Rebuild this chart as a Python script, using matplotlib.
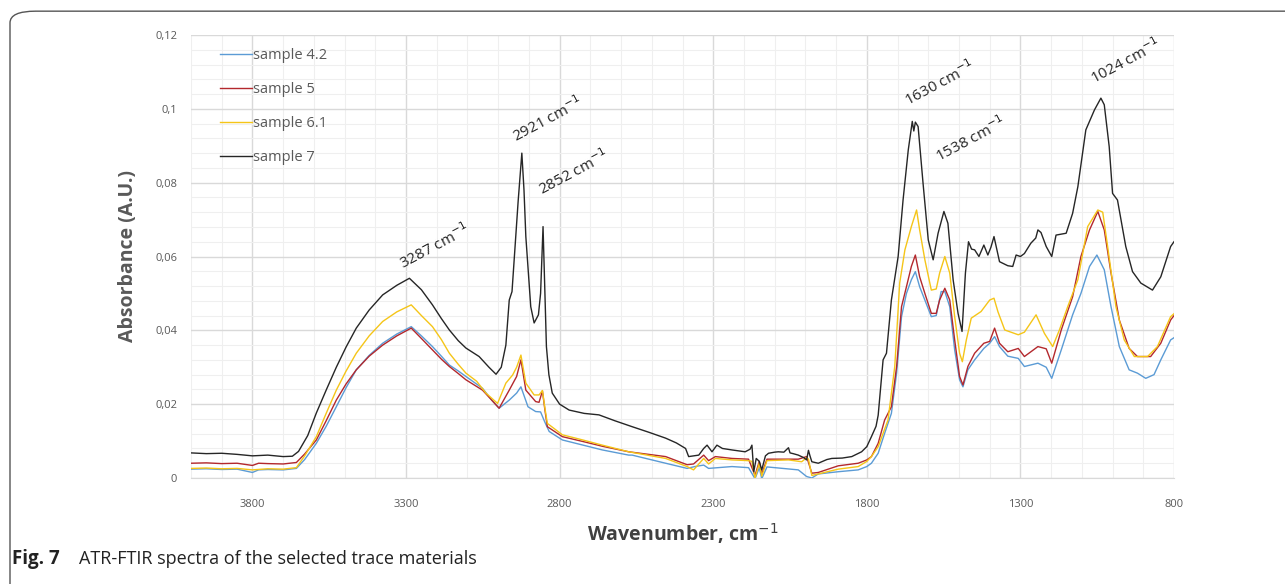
import numpy as np
import matplotlib
matplotlib.use("Agg")
import matplotlib.pyplot as plt
from matplotlib.ticker import MultipleLocator, FuncFormatter
from matplotlib.patches import FancyBboxPatch

plt.rcParams['font.family'] = ['Open Sans', 'DejaVu Sans']

# sample 7 (black)
wn_s7 = [4000, 3950, 3900, 3850, 3800, 3750, 3700, 3670, 3650, 3620, 3592, 3560, 3527, 3495,
         3462, 3420, 3376, 3330, 3289, 3250, 3214, 3185, 3159, 3130, 3105, 3062, 3030, 3007,
         2990, 2975, 2964, 2955, 2948, 2935, 2923, 2916, 2910, 2894, 2883, 2869, 2862, 2854,
         2848, 2843, 2835, 2824, 2800, 2769, 2720, 2672, 2620, 2564, 2510, 2455, 2420, 2390,
         2380, 2347, 2331, 2320, 2304, 2288, 2270, 2239, 2196, 2180, 2174, 2168, 2160, 2150,
         2142, 2130, 2120, 2100, 2088, 2070, 2055, 2050, 2040, 2023, 2005, 1996, 1990, 1985,
         1979, 1958, 1930, 1914, 1880, 1849, 1817, 1800, 1785, 1770, 1763, 1747, 1736, 1720,
         1698, 1682, 1665, 1652, 1647, 1642, 1633, 1617, 1600, 1584, 1568, 1549, 1536, 1519,
         1503, 1490, 1479, 1469, 1459, 1449, 1435, 1419, 1406, 1396, 1386, 1368, 1341, 1325,
         1314, 1300, 1287, 1266, 1250, 1243, 1233, 1216, 1198, 1184, 1170, 1151, 1130, 1113,
         1087, 1059, 1038, 1027, 1011, 1000, 984, 957, 935, 908, 870, 843, 811, 800]
abs_s7 = [0.0068, 0.0066, 0.0067, 0.0064, 0.0060, 0.0062, 0.0058, 0.0059, 0.0072, 0.0115, 0.0176,
          0.0238, 0.0300, 0.0355, 0.0406, 0.0455, 0.0496, 0.0522, 0.0541, 0.0510, 0.0469, 0.0432,
          0.0401, 0.0372, 0.0352, 0.0329, 0.0300, 0.0281, 0.0300, 0.0360, 0.0482, 0.0505, 0.0590,
          0.0750, 0.0880, 0.0780, 0.0654, 0.0464, 0.0420, 0.0442, 0.0500, 0.0681, 0.0500, 0.0356,
          0.0280, 0.0230, 0.0200, 0.0184, 0.0175, 0.0171, 0.0155, 0.0139, 0.0124, 0.0108, 0.0095,
          0.0080, 0.0058, 0.0062, 0.0080, 0.0089, 0.0071, 0.0089, 0.0080, 0.0076, 0.0071, 0.0078,
          0.0089, 0.0017, 0.0053, 0.0045, 0.0022, 0.0060, 0.0067, 0.0070, 0.0071, 0.0070, 0.0082,
          0.0068, 0.0066, 0.0062, 0.0055, 0.0049, 0.0075, 0.0060, 0.0044, 0.0040, 0.0050, 0.0053,
          0.0054, 0.0058, 0.0071, 0.0085, 0.0112, 0.0140, 0.0170, 0.0320, 0.0338, 0.0482, 0.0600,
          0.0753, 0.0889, 0.0966, 0.0940, 0.0964, 0.0952, 0.0799, 0.0645, 0.0591, 0.0663, 0.0722,
          0.0690, 0.0537, 0.0446, 0.0397, 0.0555, 0.0640, 0.0620, 0.0618, 0.0600, 0.0631, 0.0604,
          0.0625, 0.0654, 0.0586, 0.0575, 0.0573, 0.0604, 0.0600, 0.0608, 0.0636, 0.0650, 0.0672,
          0.0665, 0.0627, 0.0600, 0.0658, 0.0660, 0.0663, 0.0717, 0.0789, 0.0943, 0.0997, 0.1029,
          0.1011, 0.0898, 0.0771, 0.0753, 0.0627, 0.0559, 0.0528, 0.0509, 0.0545, 0.0627, 0.0640]

# sample 6.1 (yellow)
wn_s61 = [4000, 3950, 3900, 3850, 3800, 3750, 3700, 3657, 3630, 3592, 3560, 3527, 3495, 3462,
          3420, 3376, 3330, 3283, 3250, 3214, 3185, 3159, 3130, 3105, 3070, 3040, 3002, 2975,
          2953, 2940, 2926, 2910, 2883, 2867, 2856, 2848, 2840, 2791, 2720, 2661, 2575, 2455,
          2385, 2364, 2331, 2315, 2293, 2239, 2185, 2174, 2164, 2150, 2142, 2125, 2055, 2012,
          1996, 1990, 1979, 1958, 1893, 1828, 1800, 1785, 1763, 1731, 1709, 1693, 1676, 1655,
          1638, 1628, 1611, 1590, 1574, 1563, 1546, 1530, 1514, 1498, 1489, 1476, 1460, 1428,
          1400, 1386, 1373, 1351, 1307, 1287, 1249, 1222, 1195, 1173, 1146, 1113, 1081, 1048,
          1032, 1016, 989, 962, 929, 886, 854, 811, 800]
abs_s61 = [0.0026, 0.0027, 0.0025, 0.0026, 0.0022, 0.0025, 0.0024, 0.0028, 0.0060, 0.0112, 0.0175,
           0.0238, 0.0290, 0.0338, 0.0385, 0.0424, 0.0450, 0.0469, 0.0440, 0.0410, 0.0375, 0.0338,
           0.0308, 0.0284, 0.0262, 0.0230, 0.0202, 0.0257, 0.0279, 0.0300, 0.0333, 0.0257, 0.0225,
           0.0225, 0.0237, 0.0190, 0.0148, 0.0117, 0.0102, 0.0089, 0.0071, 0.0053, 0.0031, 0.0022,
           0.0053, 0.0038, 0.0053, 0.0049, 0.0047, 0.0045, 0.0000, 0.0040, 0.0005, 0.0047, 0.0049,
           0.0044, 0.0055, 0.0051, 0.0007, 0.0011, 0.0024, 0.0031, 0.0045, 0.0058, 0.0085, 0.0157,
           0.0302, 0.0528, 0.0618, 0.0681, 0.0726, 0.0672, 0.0591, 0.0509, 0.0512, 0.0555, 0.0600,
           0.0555, 0.0437, 0.0338, 0.0315, 0.0374, 0.0433, 0.0451, 0.0482, 0.0487, 0.0450, 0.0401,
           0.0388, 0.0395, 0.0442, 0.0392, 0.0356, 0.0401, 0.0464, 0.0537, 0.0681, 0.0726, 0.0720,
           0.0627, 0.0464, 0.0374, 0.0329, 0.0329, 0.0356, 0.0437, 0.0445]

# sample 5 (red)
wn_s5 = [4000, 3950, 3900, 3850, 3800, 3780, 3750, 3700, 3657, 3630, 3592, 3560, 3527, 3495,
         3462, 3420, 3376, 3330, 3283, 3250, 3214, 3185, 3159, 3130, 3105, 3051, 3020, 2997,
         2964, 2940, 2926, 2910, 2878, 2867, 2856, 2848, 2840, 2791, 2720, 2661, 2575, 2455,
         2385, 2364, 2331, 2315, 2293, 2239, 2185, 2164, 2150, 2142, 2125, 2023, 1996, 1979,
         1958, 1893, 1828, 1800, 1785, 1763, 1742, 1720, 1703, 1687, 1671, 1655, 1642, 1628,
         1611, 1590, 1574, 1563, 1546, 1530, 1514, 1498, 1487, 1471, 1449, 1419, 1400, 1384,
         1368, 1341, 1307, 1287, 1243, 1216, 1198, 1167, 1130, 1103, 1075, 1048, 1027, 1005,
         978, 946, 919, 876, 843, 811, 800]
abs_s5 = [0.0040, 0.0041, 0.0039, 0.0040, 0.0034, 0.0040, 0.0039, 0.0038, 0.0042, 0.0065, 0.0103,
          0.0155, 0.0211, 0.0255, 0.0293, 0.0330, 0.0360, 0.0385, 0.0406, 0.0378, 0.0347, 0.0322,
          0.0302, 0.0283, 0.0266, 0.0238, 0.0210, 0.0189, 0.0238, 0.0275, 0.0320, 0.0238, 0.0207,
          0.0205, 0.0236, 0.0185, 0.0139, 0.0112, 0.0098, 0.0086, 0.0071, 0.0058, 0.0036, 0.0038,
          0.0062, 0.0047, 0.0058, 0.0053, 0.0051, 0.0007, 0.0045, 0.0011, 0.0051, 0.0051, 0.0058,
          0.0013, 0.0015, 0.0033, 0.0040, 0.0049, 0.0058, 0.0094, 0.0157, 0.0193, 0.0302, 0.0464,
          0.0518, 0.0573, 0.0604, 0.0545, 0.0500, 0.0446, 0.0446, 0.0482, 0.0514, 0.0482, 0.0374,
          0.0275, 0.0252, 0.0302, 0.0338, 0.0365, 0.0370, 0.0406, 0.0365, 0.0342, 0.0351, 0.0329,
          0.0356, 0.0350, 0.0311, 0.0401, 0.0491, 0.0600, 0.0672, 0.0722, 0.0672, 0.0555, 0.0428,
          0.0351, 0.0329, 0.0329, 0.0365, 0.0428, 0.0440]

# sample 4.2 (blue)
wn_s42 = [4000, 3950, 3900, 3850, 3800, 3780, 3750, 3700, 3657, 3630, 3592, 3560, 3527, 3495,
          3462, 3420, 3376, 3330, 3283, 3250, 3214, 3185, 3159, 3130, 3105, 3051, 3020, 2997,
          2964, 2940, 2926, 2903, 2878, 2862, 2849, 2834, 2791, 2661, 2575, 2564, 2455, 2385,
          2360, 2331, 2315, 2239, 2185, 2164, 2150, 2142, 2125, 2023, 1996, 1979, 1958, 1893,
          1828, 1800, 1785, 1763, 1742, 1720, 1703, 1687, 1671, 1655, 1642, 1628, 1611, 1590,
          1574, 1558, 1546, 1530, 1514, 1498, 1487, 1471, 1449, 1419, 1400, 1384, 1368, 1341,
          1307, 1287, 1243, 1216, 1198, 1167, 1130, 1103, 1075, 1051, 1027, 1005, 978, 946, 919,
          892, 865, 843, 811, 800]
abs_s42 = [0.0024, 0.0025, 0.0023, 0.0024, 0.0015, 0.0022, 0.0023, 0.0022, 0.0026, 0.0050, 0.0094,
           0.0140, 0.0193, 0.0245, 0.0293, 0.0332, 0.0365, 0.0390, 0.0410, 0.0385, 0.0356, 0.0330,
           0.0306, 0.0290, 0.0275, 0.0243, 0.0210, 0.0189, 0.0211, 0.0230, 0.0247, 0.0193, 0.0180,
           0.0179, 0.0153, 0.0126, 0.0103, 0.0076, 0.0062, 0.0062, 0.0040, 0.0026, 0.0031, 0.0035,
           0.0026, 0.0031, 0.0028, -0.0002, 0.0028, -0.0002, 0.0030, 0.0022, 0.0004, 0.0000, 0.0011,
           0.0017, 0.0022, 0.0031, 0.0040, 0.0067, 0.0121, 0.0175, 0.0284, 0.0437, 0.0500, 0.0537,
           0.0559, 0.0518, 0.0482, 0.0437, 0.0440, 0.0505, 0.0505, 0.0464, 0.0347, 0.0266, 0.0247,
           0.0293, 0.0320, 0.0351, 0.0365, 0.0383, 0.0356, 0.0330, 0.0324, 0.0302, 0.0311, 0.0300,
           0.0270, 0.0347, 0.0442, 0.0500, 0.0573, 0.0604, 0.0564, 0.0464, 0.0356, 0.0293, 0.0284,
           0.0270, 0.0280, 0.0320, 0.0374, 0.0380]

# peak labels: text, anchor wavenumber, anchor absorbance
peak_texts = ["3287 cm$^{-1}$", "2921 cm$^{-1}$", "2852 cm$^{-1}$",
              "1630 cm$^{-1}$", "1538 cm$^{-1}$", "1024 cm$^{-1}$"]
peak_wn = [3305, 2935, 2851, 1659, 1558, 1055]
peak_abs = [0.0556, 0.0900, 0.0756, 0.0997, 0.0845, 0.1057]

series = [
    ("sample 4.2", wn_s42, abs_s42, "#5b9bd5"),
    ("sample 5", wn_s5, abs_s5, "#b3282d"),
    ("sample 6.1", wn_s61, abs_s61, "#f5c518"),
    ("sample 7", wn_s7, abs_s7, "#262626"),
]

fig = plt.figure(figsize=(12.85, 5.84), dpi=100)
ax = fig.add_axes([191 / 1285, 1 - 478 / 584, (1174 - 191) / 1285, (478 - 35) / 584])

for name, x, y, c in series:
    ax.plot(x, y, color=c, lw=1.0, label=name)

ax.set_xlim(4000, 800)
ax.set_ylim(0, 0.12)
ax.xaxis.set_minor_locator(MultipleLocator(100))
ax.set_xticks([3800, 3300, 2800, 2300, 1800, 1300, 800])
ax.yaxis.set_major_locator(MultipleLocator(0.02))
ax.yaxis.set_minor_locator(MultipleLocator(0.004))
ax.yaxis.set_major_formatter(FuncFormatter(lambda v, p: f"{v:g}".replace('.', ',')))
ax.grid(which='major', color='#d9d9d9', lw=1.0)
ax.grid(which='minor', color='#efefef', lw=0.8)
ax.set_axisbelow(True)
for s in ['top', 'right', 'left']:
    ax.spines[s].set_visible(False)
ax.spines['bottom'].set_color('#d9d9d9')
ax.tick_params(which='both', length=0, labelsize=8, colors='#595959')
ax.tick_params(axis='x', pad=15)
ax.tick_params(axis='y', pad=10)

ax.set_ylabel("Absorbance (A.U.)", fontsize=14, fontweight='bold', color='#595959', labelpad=12)
ax.set_xlabel("Wavenumber, cm$^{-1}$", fontsize=14, fontweight='bold', color='#404040', labelpad=8)

for t, xw, ya in zip(peak_texts, peak_wn, peak_abs):
    ax.text(xw, ya, t, rotation=28, rotation_mode='anchor', ha='left', va='bottom',
            fontsize=11, color='#262626')

leg = ax.legend(loc='upper left', bbox_to_anchor=(0.016, 1.0), frameon=False, fontsize=10.5,
                handlelength=2.2, handletextpad=0.1, labelspacing=1.3)
for txt in leg.get_texts():
    txt.set_color('#595959')

# rounded frame around the figure and caption
box = FancyBboxPatch((10 / 1285, -0.02), 1.05, 0.998 - 10 / 584 + 0.02,
                     boxstyle="round,pad=0,rounding_size=0.02", transform=fig.transFigure,
                     fill=False, edgecolor='#555555', lw=1.0)
fig.patches.append(box)
fig.text(12 / 1285, 1 - 559 / 584, "Fig. 7", fontsize=13.5, fontweight='bold', color='#222222',
         va='center')
fig.text(79 / 1285, 1 - 559 / 584, "ATR-FTIR spectra of the selected trace materials", fontsize=13,
         color='#222222', va='center')

fig.savefig("out.png", dpi=100)
